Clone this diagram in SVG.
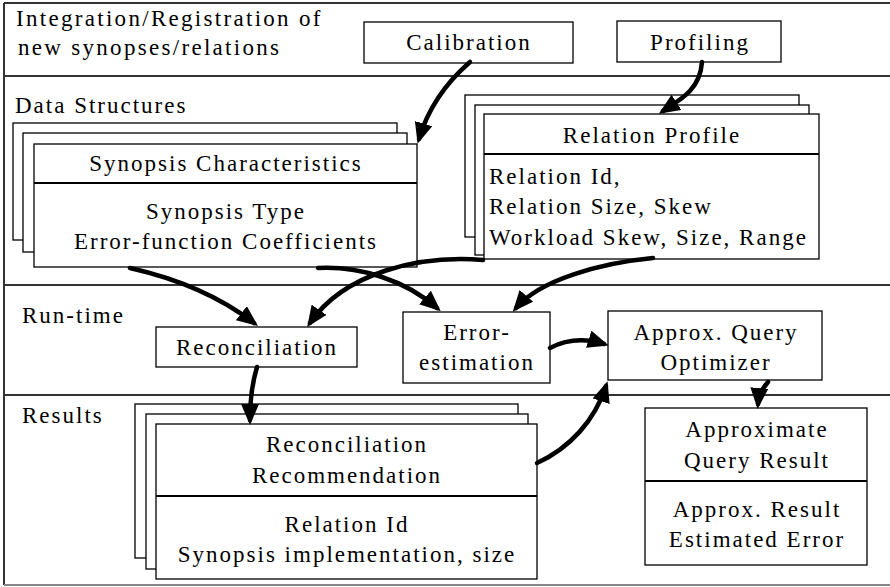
<svg xmlns="http://www.w3.org/2000/svg" width="890" height="587" viewBox="0 0 890 587">
<style>
text{font-family:'Liberation Serif',serif;font-size:23px;letter-spacing:2px;fill:#000}
.c{text-anchor:middle}
.box{fill:#fff;stroke:#000;stroke-width:1.3}
.dv{stroke:#000;stroke-width:2.2}
.sec{stroke:#333;stroke-width:2;fill:none}
.ar{fill:none;stroke:#000;stroke-width:4.5;stroke-linecap:round;marker-end:url(#ah)}
</style>
<defs>
<marker id="ah" viewBox="0 0 21 18" refX="16" refY="9" markerWidth="21" markerHeight="18" orient="auto" markerUnits="userSpaceOnUse"><path d="M0,0 L21,9 L0,18 z" fill="#000"/></marker>
</defs>
<rect width="890" height="587" fill="#fff"/>
<g id="frame">
<path class="sec" d="M4,3 H890 M4,76 H890 M4,285 H890 M4,395 H890 M4,3 V585"/>
<path d="M4,585 H890" stroke="#888" stroke-width="2"/>
</g>
<g id="labels">
<text x="16" y="26" style="letter-spacing:2.3px">Integration/Registration of</text>
<text x="18" y="55" style="letter-spacing:2.3px">new synopses/relations</text>
<text x="15" y="113">Data Structures</text>
<text x="22" y="323">Run-time</text>
<text x="22" y="423">Results</text>
</g>
<g id="calibration">
<rect class="box" x="364" y="22" width="209" height="41"/>
<text class="c" x="469" y="50">Calibration</text>
</g>
<g id="profiling">
<rect class="box" x="617" y="21" width="164" height="41"/>
<text class="c" x="700" y="50">Profiling</text>
</g>
<g id="synopsis-characteristics">
<rect class="box" x="13" y="123" width="384" height="117"/>
<rect class="box" x="23" y="133" width="384" height="119"/>
<rect class="box" x="34" y="144" width="383" height="123"/>
<line class="dv" x1="34" y1="183" x2="417" y2="183"/>
<text class="c" x="226" y="171">Synopsis Characteristics</text>
<text class="c" x="226" y="219">Synopsis Type</text>
<text class="c" x="226" y="249">Error-function Coefficients</text>
</g>
<g id="relation-profile">
<rect class="box" x="465" y="95" width="334" height="142"/>
<rect class="box" x="475" y="105" width="334" height="150"/>
<rect class="box" x="484" y="114" width="335" height="145"/>
<line class="dv" x1="484" y1="154" x2="819" y2="154"/>
<text class="c" x="652" y="143">Relation Profile</text>
<text x="489" y="184">Relation Id,</text>
<text x="489" y="214">Relation Size, Skew</text>
<text x="489" y="245">Workload Skew, Size, Range</text>
</g>
<g id="reconciliation">
<rect class="box" x="156" y="327" width="201" height="40"/>
<text class="c" x="257" y="355">Reconciliation</text>
</g>
<g id="error-estimation">
<rect class="box" x="403" y="312" width="147" height="71"/>
<text class="c" x="477" y="340">Error-</text>
<text class="c" x="477" y="370">estimation</text>
</g>
<g id="query-optimizer">
<rect class="box" x="608" y="311" width="214" height="69"/>
<text class="c" x="716" y="340">Approx. Query</text>
<text class="c" x="716" y="370">Optimizer</text>
</g>
<g id="reconciliation-recommendation">
<rect class="box" x="135" y="404" width="383" height="154"/>
<rect class="box" x="146" y="414" width="382" height="155"/>
<rect class="box" x="156" y="424" width="381" height="155"/>
<line class="dv" x1="156" y1="496" x2="537" y2="496"/>
<text class="c" x="347" y="452">Reconciliation</text>
<text class="c" x="347" y="483">Recommendation</text>
<text class="c" x="347" y="532">Relation Id</text>
<text class="c" x="347" y="562">Synopsis implementation, size</text>
</g>
<g id="approx-query-result">
<rect class="box" x="645" y="408" width="222" height="157"/>
<line class="dv" x1="645" y1="481" x2="867" y2="481"/>
<text class="c" x="757" y="437">Approximate</text>
<text class="c" x="757" y="468">Query Result</text>
<text class="c" x="757" y="517">Approx. Result</text>
<text class="c" x="757" y="547">Estimated Error</text>
</g>
<g id="connectors">
<path class="ar" d="M470,62 Q432,95 419,139"/>
<path class="ar" d="M702,62 C700,90 680,100 663,111"/>
<path class="ar" d="M130,268 Q205,285 254,323"/>
<path class="ar" d="M318,268 C360,266 405,280 437,308"/>
<path class="ar" d="M483,260 C420,255 345,272 310,323"/>
<path class="ar" d="M653,258 C600,263 540,280 516,308"/>
<path class="ar" d="M550,348 Q575,335 604,344"/>
<path class="ar" d="M537,463 C570,448 595,420 606,386"/>
<path class="ar" d="M768,382 Q759,392 758,404"/>
<path class="ar" d="M257,367 Q250,390 250,420"/>
</g>
</svg>
